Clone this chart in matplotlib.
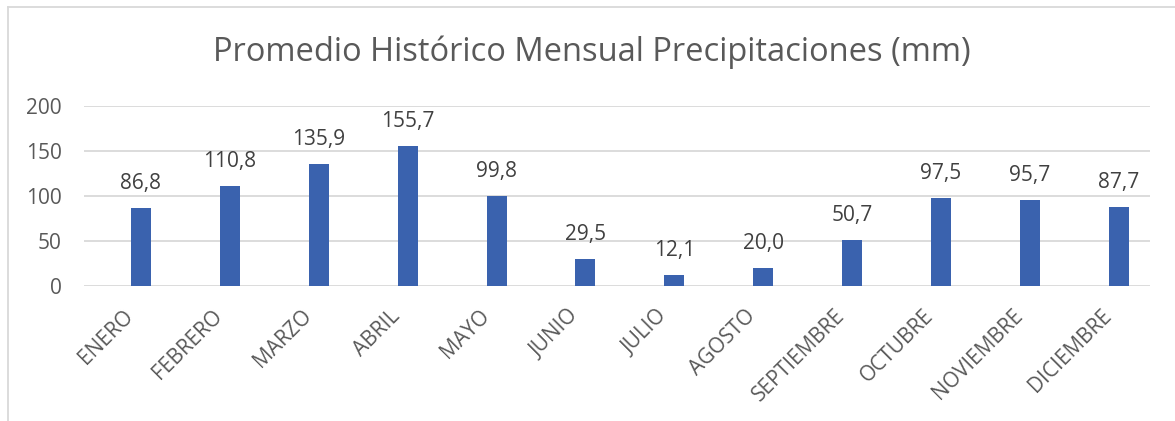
import numpy as np
import matplotlib.pyplot as plt
import matplotlib.transforms as mtransforms
from matplotlib.lines import Line2D

meses = ['ENERO', 'FEBRERO', 'MARZO', 'ABRIL', 'MAYO', 'JUNIO', 'JULIO',
         'AGOSTO', 'SEPTIEMBRE', 'OCTUBRE', 'NOVIEMBRE', 'DICIEMBRE']
precipitacion = [86.8, 110.8, 135.9, 155.7, 99.8, 29.5, 12.1, 20.0, 50.7, 97.5, 95.7, 87.7]
yticks = [0, 50, 100, 150, 200]

gris = '#595959'
azul = '#3A62AE'

plt.rcParams['font.family'] = ['Open Sans', 'DejaVu Sans']

fig = plt.figure(figsize=(11.75, 4.21), dpi=100)
ax = fig.add_axes([84 / 1175, 1 - 286 / 421, (1150 - 84) / 1175, 180 / 421])

x = np.arange(len(meses))
ax.bar(x, precipitacion, width=0.225, color=azul, zorder=3)

# etiquetas de datos con coma decimal
for xi, v in zip(x, precipitacion):
    ax.annotate(f'{v:.1f}'.replace('.', ','), (xi, v), xytext=(0, 13.7),
                textcoords='offset points', ha='center', va='baseline',
                fontsize=15, color='#404040')

ax.set_xlim(-0.641, len(meses) - 1 + 0.352)
ax.set_ylim(0, 200)
ax.set_yticks(yticks)
ax.yaxis.grid(True, color='#D9D9D9', linewidth=1.3, zorder=0)
ax.set_xticks(x)
ax.set_xticklabels(meses, rotation=45, ha='right', rotation_mode='anchor',
                   fontsize=15, color=gris)
ax.tick_params(axis='y', labelsize=15, labelcolor=gris, length=0, pad=16)
ax.tick_params(axis='x', length=0, pad=14)
desplazar = mtransforms.ScaledTranslation(-18 / 100, 0, fig.dpi_scale_trans)
for lbl in ax.get_xticklabels():
    lbl.set_transform(lbl.get_transform() + desplazar)
for s in ax.spines.values():
    s.set_visible(False)

fig.text(0.504, 1 - 52 / 421, 'Promedio Histórico Mensual Precipitaciones (mm)',
         ha='center', va='center', fontsize=23.5, color=gris)

# marco del gráfico
fig.add_artist(Line2D([8 / 1175, 8 / 1175], [0, 1 - 7 / 421], color='#D9D9D9', linewidth=1.3))
fig.add_artist(Line2D([8 / 1175, 1], [1 - 7 / 421, 1 - 7 / 421], color='#D9D9D9', linewidth=1.3))

fig.savefig('out.png', dpi=100)
